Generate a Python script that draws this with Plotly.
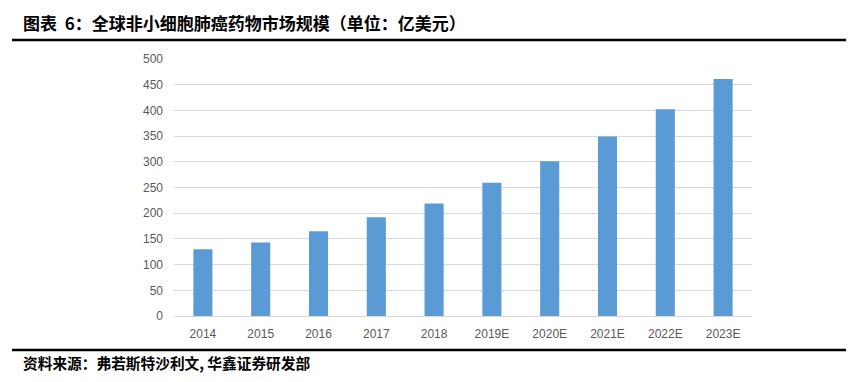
import plotly.graph_objects as go

categories = ["2014", "2015", "2016", "2017", "2018", "2019E", "2020E", "2021E", "2022E", "2023E"]
values = [130, 143, 165, 192, 219, 259, 301, 349, 402, 461]
y_ticks = [0, 50, 100, 150, 200, 250, 300, 350, 400, 450, 500]

title_text = "图表\u00a0\u00a06：全球非小细胞肺癌药物市场规模（单位：亿美元）"
source_text = "资料来源：弗若斯特沙利文, 华鑫证券研发部"

W, H = 861, 382
OFF = 8  # page body margin offset
L, R, T, B = 174 - OFF, 752 - OFF, 59 - OFF, 316 - OFF
pw, ph = R - L, B - T

def px(x):
    return (x - OFF - L) / pw

def py(y):
    return (B - (y - OFF)) / ph

fig = go.Figure(
    go.Bar(
        x=categories,
        y=values,
        marker=dict(color="#5b9bd5", line=dict(width=0)),
        width=0.33,
    )
)

cjk = "Noto Sans CJK SC, sans-serif"
tickfont = dict(family="Liberation Sans, Arial, sans-serif", size=12, color="#595959")

fig.update_layout(
    width=W,
    height=H,
    margin=dict(l=L, r=W - R, t=T, b=H - B, pad=0),
    paper_bgcolor="white",
    plot_bgcolor="white",
    showlegend=False,
    xaxis=dict(
        type="category",
        showgrid=False,
        showline=False,
        ticks="",
        tickfont=tickfont,
        ticklabelstandoff=9,
        fixedrange=True,
    ),
    yaxis=dict(
        range=[0, 500],
        tickvals=y_ticks,
        showgrid=True,
        gridcolor="#d9d9d9",
        gridwidth=1,
        zeroline=True,
        zerolinecolor="#d9d9d9",
        zerolinewidth=1,
        showline=False,
        ticks="",
        tickfont=tickfont,
        ticklabelstandoff=10,
        fixedrange=True,
    ),
    shapes=[
        dict(type="line", xref="paper", yref="paper",
             x0=px(12), x1=px(846), y0=py(40), y1=py(40),
             line=dict(color="black", width=2.5)),
        dict(type="line", xref="paper", yref="paper",
             x0=px(12), x1=px(846), y0=py(350), y1=py(350),
             line=dict(color="black", width=2.5)),
    ],
    annotations=[
        dict(text="<b>" + title_text + "</b>", xref="paper", yref="paper",
             x=px(21), y=py(22), xanchor="left", yanchor="middle",
             showarrow=False, font=dict(family=cjk, size=17, color="black")),
        dict(text="<b>" + source_text + "</b>", xref="paper", yref="paper",
             x=px(21), y=py(362), xanchor="left", yanchor="middle",
             showarrow=False, font=dict(family=cjk, size=14.7, color="black")),
    ],
)

fig.write_html("out.html")
